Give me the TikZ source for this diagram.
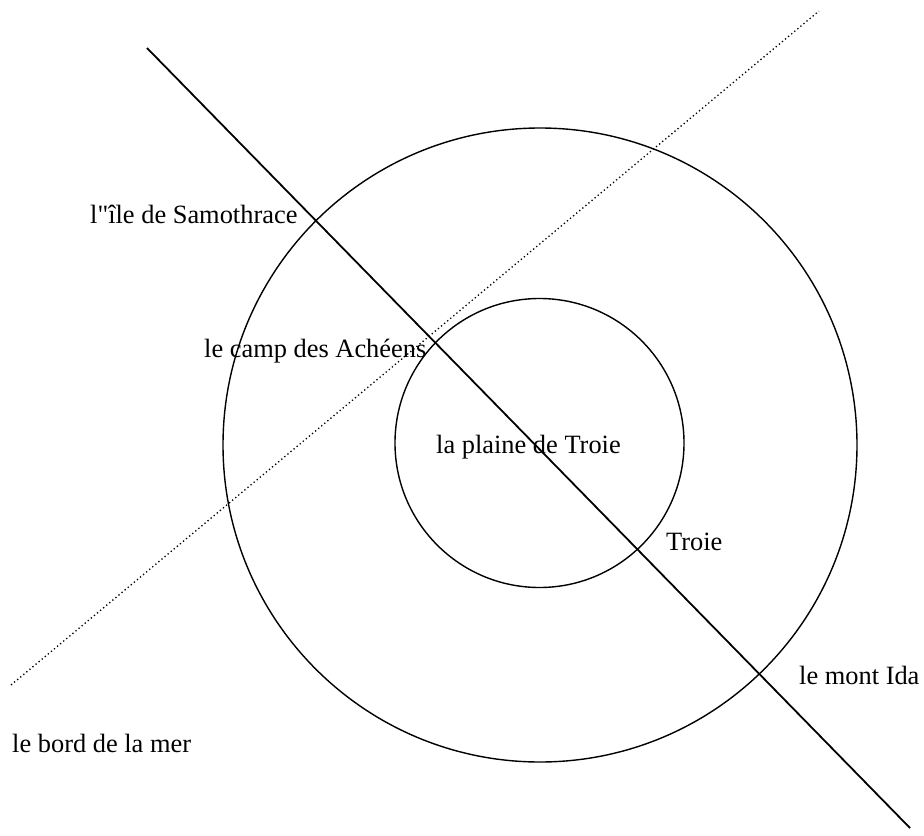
\documentclass[tikz,border=0pt]{standalone}
\usepackage{fontspec}
\setmainfont{Liberation Serif}[Ligatures=TeXOff]
\begin{document}
\begin{tikzpicture}[x=1bp, y=-1bp, line join=round]
		\useasboundingbox (0,0) rectangle (924,836);
		\tikzset{lieu/.style={anchor=base west, inner sep=0pt, font=\fontsize{26.5}{30}\selectfont}}
		
		% Circles
		\draw[line width=1.4bp] (540,445) circle (317);
		\draw[line width=1.4bp] (539.5,443) circle (144.5);
		
		% Shore line (dotted)
		\coordinate (mer1) at (11,685);
		\coordinate (mer2) at (819,11);
		\draw[line width=1.3bp, dash pattern=on 1.3bp off 2.7bp] (mer1) -- (mer2);
		
		% Axis Samothrace -- Ida
		\coordinate (axe1) at (147,48);
		\coordinate (axe2) at (910,828);
		\draw[line width=1.8bp] (axe1) -- (axe2);
		
		% Places
		\node[lieu] (samothrace) at (90,223) {l"île de Samothrace};
		\node[lieu] (camp) at (204,357) {le camp des Achéens};
		\node[lieu] (plaine) at (436,453) {la plaine de Troie};
		\node[lieu] (troie) at (666,550) {Troie};
		\node[lieu] (ida) at (799,684) {le mont Ida};
		\node[lieu] (mer) at (12,752) {le bord de la mer};
	\end{tikzpicture}
\end{document}
